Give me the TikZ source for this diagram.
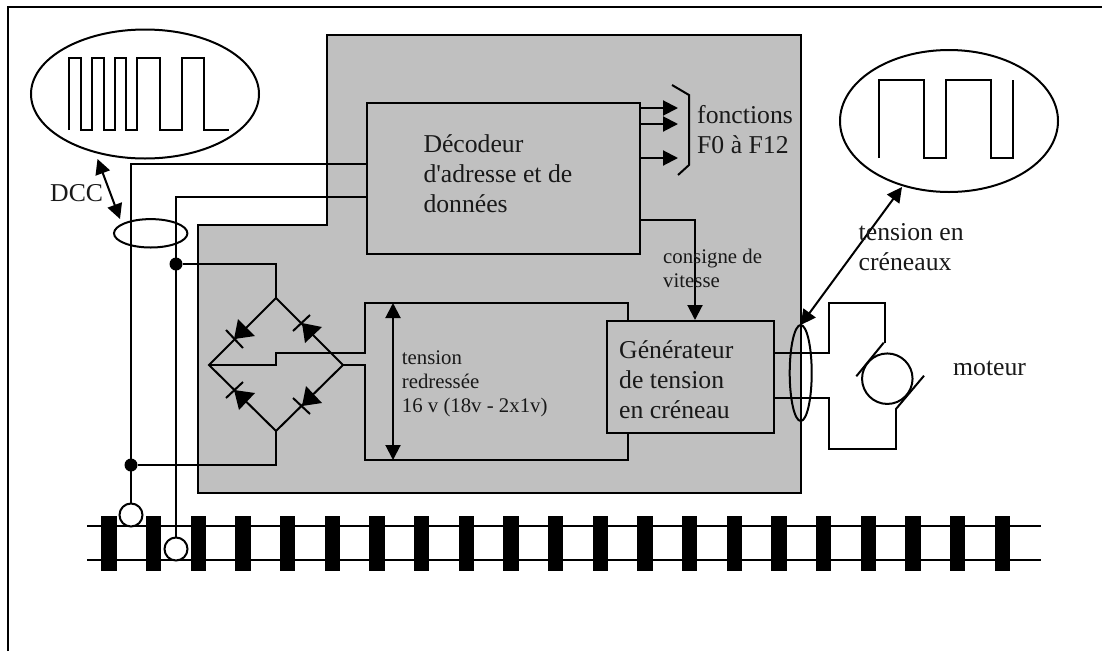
\documentclass[tikz,border=0pt]{standalone}
\usepackage{fontspec}
\newfontfamily\rawserif{Liberation Serif}
\usetikzlibrary{arrows.meta}
\definecolor{panelgray}{HTML}{C0C0C0}
\tikzset{
  wire/.style={draw=black,line width=2pt,line join=miter},
  arrowline/.style={wire,-{Triangle[length=15pt,width=15pt]}},
  dblarrow/.style={wire,{Triangle[length=15pt,width=15pt]}-{Triangle[length=15pt,width=15pt]}},
  blockbox/.style={draw=black,line width=2pt,fill=panelgray,anchor=north west,inner sep=0pt},
  dotnode/.style={circle,fill=black,inner sep=0pt,minimum size=13pt},
  contact/.style={circle,draw=black,line width=2pt,fill=white,inner sep=0pt,minimum size=23pt},
  sleeper/.style={fill=black,inner sep=0pt,minimum width=15.5pt,minimum height=55.5pt,anchor=north west},
  bigtext/.style={anchor=north west,inner sep=0pt,align=left,font=\rawserif\fontsize{25.7}{30}\selectfont,text=black!90},
  smalltext/.style={anchor=north west,inner sep=0pt,align=left,font=\rawserif\fontsize{20.8}{24}\selectfont,text=black!90},
  diodehead/.style={fill=black}
}
\begin{document}
\begin{tikzpicture}[x=1pt,y=-1pt]
\useasboundingbox (0,0) rectangle (1102,651);
% frame
\coordinate (fa) at (8,651); \coordinate (fb) at (8,7); \coordinate (fc) at (1102,7);
\draw[wire] (fa) -- (fb) -- (fc);
% gray panel
\draw[wire,fill=panelgray] (327,35) -- (800.5,35) -- (800.5,493) -- (198,493) -- (198,225) -- (327,225) -- cycle;
% rails
\coordinate (r1a) at (87,526); \coordinate (r1b) at (1041,526);
\coordinate (r2a) at (87,560); \coordinate (r2b) at (1041,560);
\draw[wire] (r1a) -- (r1b); \draw[wire] (r2a) -- (r2b);
\foreach \i in {0,...,20} { \node[sleeper] (s\i) at ({101+44.67*\i},515.7) {}; }
% boxes
\node[blockbox,minimum width=273pt,minimum height=151pt] (dec) at (366,102) {};
\node[blockbox,minimum width=167pt,minimum height=112pt] (gen) at (606,320) {};
% wave ellipses
\draw[wire] (145,94) ellipse [x radius=114,y radius=64.5];
\draw[wire] (949,121) ellipse [x radius=109,y radius=71];
\draw[wire] (69,130) -- (69,57.5) -- (80.5,57.5) -- (80.5,130) -- (92,130) -- (92,57.5) -- (103.5,57.5) -- (103.5,130) -- (114.5,130) -- (114.5,57.5) -- (126,57.5) -- (126,130) -- (137,130) -- (137,57.5) -- (160,57.5) -- (160,130) -- (182,130) -- (182,57.5) -- (204,57.5) -- (204,130) -- (228.5,130);
\draw[wire] (878.7,158) -- (878.7,80) -- (923.7,80) -- (923.7,158) -- (946,158) -- (946,80) -- (991,80) -- (991,158) -- (1013,158) -- (1013,80);
% track contacts and feed wires
\node[contact] (c1) at (131,515) {};
\node[contact] (c2) at (176,549) {};
\coordinate (d1) at (366,164); \coordinate (d2) at (366,197);
\draw[wire] (c1) -- (131,164) -- (d1);
\draw[wire] (c2) -- (176,197) -- (d2);
\node[dotnode] (j1) at (176,264) {};
\node[dotnode] (j2) at (131,465) {};
% bridge
\coordinate (bt) at (276,298); \coordinate (bl) at (209,365); \coordinate (br) at (343,365); \coordinate (bb) at (276,431);
\coordinate (g1) at (628,320); \coordinate (g2) at (628,432);
\draw[wire] (j1) -- (276,264) -- (bt);
\draw[wire] (j2) -- (276,465) -- (bb);
\draw[wire] (bt) -- (bl) -- (bb) -- (br) -- cycle;
\draw[wire] (bl) -- (276,365) -- (276,353) -- (365,353) -- (365,303) -- (628,303) -- (g1);
\draw[wire] (br) -- (365,365) -- (365,460) -- (628,460) -- (g2);
% diodes
\fill[diodehead] (234,339) -- (238,319) -- (255,336) -- cycle;
\draw[wire] (226,330) -- (243,348);
\fill[diodehead] (302,323) -- (305,343) -- (322,327) -- cycle;
\draw[wire] (293,331) -- (310,315);
\fill[diodehead] (234,390) -- (239,410) -- (255,393) -- cycle;
\draw[wire] (226,398) -- (243,382);
\fill[diodehead] (302,406) -- (306,386) -- (322,403) -- cycle;
\draw[wire] (293,398) -- (310,414);
% voltage arrow
\coordinate (va) at (393,303); \coordinate (vb) at (393,460);
\draw[dblarrow] (va) -- (vb);
% function outputs
\coordinate (f1) at (678,108); \coordinate (f2) at (678,124); \coordinate (f3) at (678,158);
\draw[arrowline] (639,108) -- (f1);
\draw[arrowline] (639,124) -- (f2);
\draw[arrowline] (639,158) -- (f3);
\draw[wire] (672,85) -- (689,95) -- (689,165) -- (678,175);
% speed setpoint
\coordinate (g0) at (695,320);
\draw[arrowline] (639,219.7) -- (695,219.7) -- (g0);
% DCC
\coordinate (da) at (97.5,159); \coordinate (db) at (120,219);
\draw[dblarrow] (da) -- (db);
\draw[wire] (150.7,233.3) ellipse [x radius=36.7,y radius=14.2];
% output bundle
\draw[wire] (773,353) -- (828.7,353) -- (828.7,303) -- (885,303) -- (885,342.7);
\draw[wire] (773,398) -- (828.7,398) -- (828.7,448.7) -- (895.7,448.7) -- (895.7,409.3);
\draw[wire] (800.7,373) ellipse [x radius=11,y radius=48];
\coordinate (ta) at (800.7,325); \coordinate (tb) at (902,187);
\draw[dblarrow] (ta) -- (tb);
% motor
\node[circle,draw=black,line width=2pt,inner sep=0pt,minimum size=50.5pt] (mot) at (887.3,378.7) {};
\draw[wire] (856.3,376.3) -- (883.7,342.7);
\draw[wire] (895.7,409.3) -- (924,375.7);
% text
\node[bigtext] (tdcc) at (50,184) {DCC};
\node[bigtext] (tdec) at (423.3,134) {Décodeur\\d'adresse et de\\données};
\node[bigtext] (tfn) at (697,105.4) {fonctions\\F0 à F12};
\node[smalltext] (tcons) at (663,248.8) {consigne de\\vitesse};
\node[bigtext] (ttens) at (858.5,223) {tension en\\créneaux};
\node[bigtext] (tgen) at (619,340) {Générateur\\de tension\\en créneau};
\node[bigtext] (tmot) at (953,361) {moteur};
\node[smalltext] (tred) at (401.7,350.8) {tension\\redressée\\16 v (18v - 2x1v)};
\end{tikzpicture}
\end{document}
